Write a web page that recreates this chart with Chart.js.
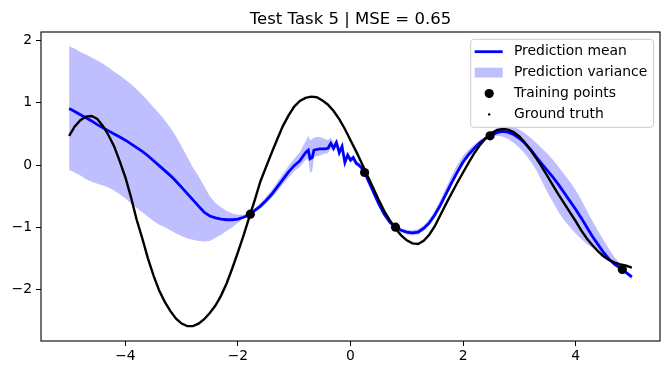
<!DOCTYPE html>
<html><head><meta charset="utf-8">
<script src="https://cdn.jsdelivr.net/npm/chart.js@4"></script>
<style>html,body{margin:0;padding:0;background:#fff;} #wrap{width:670px;height:374px;}</style>
</head><body><div id="wrap"><canvas id="c" width="670" height="374"></canvas></div>
<script>
const titleText = 'Test Task 5 | MSE = 0.65';
const legendLabels = ['Prediction mean', 'Prediction variance', 'Training points', 'Ground truth'];
const xTickValues = [-4, -2, 0, 2, 4];
const yTickValues = [-2, -1, 0, 1, 2];

const xGround = [-5.0,-4.9,-4.8,-4.7,-4.6,-4.5,-4.4,-4.3,-4.2,-4.1,-4.0,-3.9,-3.8,-3.7,-3.6,-3.5,-3.4,-3.3,-3.2,-3.1,-3.0,-2.9,-2.8,-2.7,-2.6,-2.5,-2.4,-2.3,-2.2,-2.1,-2.0,-1.9,-1.8,-1.7,-1.6,-1.5,-1.4,-1.3,-1.2,-1.1,-1.0,-0.9,-0.8,-0.7,-0.6,-0.5,-0.4,-0.3,-0.2,-0.1,0.0,0.1,0.2,0.3,0.4,0.5,0.6,0.7,0.8,0.9,1.0,1.1,1.2,1.3,1.4,1.5,1.6,1.7,1.8,1.9,2.0,2.1,2.2,2.3,2.4,2.5,2.6,2.7,2.8,2.9,3.0,3.1,3.2,3.3,3.4,3.5,3.6,3.7,3.8,3.9,4.0,4.1,4.2,4.3,4.4,4.5,4.6,4.7,4.8,4.9,5.0];
const yGround = [0.47,0.62,0.72,0.78,0.79,0.74,0.63,0.48,0.30,0.06,-0.20,-0.52,-0.88,-1.18,-1.50,-1.78,-2.02,-2.20,-2.35,-2.47,-2.55,-2.59,-2.59,-2.55,-2.48,-2.38,-2.26,-2.10,-1.90,-1.66,-1.40,-1.13,-0.84,-0.56,-0.26,-0.03,0.20,0.42,0.63,0.80,0.94,1.03,1.08,1.10,1.09,1.04,0.97,0.87,0.74,0.58,0.40,0.22,0.03,-0.17,-0.36,-0.56,-0.74,-0.89,-1.02,-1.13,-1.21,-1.26,-1.27,-1.22,-1.12,-0.98,-0.80,-0.62,-0.45,-0.28,-0.12,0.04,0.19,0.32,0.43,0.51,0.56,0.58,0.57,0.53,0.46,0.36,0.24,0.11,-0.03,-0.18,-0.33,-0.48,-0.62,-0.76,-0.90,-1.05,-1.18,-1.29,-1.39,-1.47,-1.53,-1.57,-1.60,-1.62,-1.65];

const xPred = [-5.0,-4.9,-4.8,-4.7,-4.6,-4.5,-4.4,-4.3,-4.2,-4.1,-4.0,-3.9,-3.8,-3.7,-3.6,-3.5,-3.4,-3.3,-3.2,-3.1,-3.0,-2.9,-2.8,-2.7,-2.6,-2.5,-2.4,-2.3,-2.2,-2.1,-2.0,-1.9,-1.8,-1.7,-1.6,-1.5,-1.4,-1.3,-1.2,-1.1,-1.0,-0.9,
  -0.8,-0.75,-0.72,-0.68,-0.65,-0.6,-0.55,-0.5,-0.45,-0.4,-0.35,-0.3,-0.25,-0.2,-0.15,-0.1,-0.05,0.0,0.05,0.1,0.15,0.2,0.25,0.3,
  0.4,0.5,0.6,0.7,0.8,0.9,1.0,1.1,1.2,1.3,1.4,1.5,1.6,1.7,1.8,1.9,2.0,2.1,2.2,2.3,2.4,2.5,2.6,2.7,2.8,2.9,3.0,3.1,3.2,3.3,3.4,3.5,3.6,3.7,3.8,3.9,4.0,4.1,4.2,4.3,4.4,4.5,4.6,4.7,4.8,4.9,5.0];
const yMean = [0.91,0.86,0.81,0.76,0.71,0.65,0.60,0.55,0.50,0.45,0.40,0.34,0.28,0.22,0.15,0.07,-0.01,-0.09,-0.17,-0.26,-0.36,-0.46,-0.56,-0.66,-0.76,-0.82,-0.85,-0.87,-0.88,-0.88,-0.87,-0.84,-0.80,-0.73,-0.66,-0.57,-0.47,-0.35,-0.23,-0.11,-0.01,0.07,
  0.20,0.24,0.10,0.12,0.24,0.25,0.26,0.26,0.26,0.27,0.35,0.27,0.36,0.20,0.30,0.04,0.16,0.08,0.12,0.03,0.00,-0.05,-0.12,-0.22,
  -0.42,-0.62,-0.79,-0.92,-1.00,-1.05,-1.08,-1.09,-1.08,-1.02,-0.93,-0.80,-0.64,-0.46,-0.28,-0.11,0.05,0.17,0.27,0.36,0.43,0.48,0.52,0.54,0.53,0.49,0.43,0.35,0.25,0.13,0.02,-0.09,-0.20,-0.32,-0.45,-0.58,-0.71,-0.85,-1.00,-1.15,-1.28,-1.41,-1.52,-1.60,-1.66,-1.73,-1.80];
const yUpper = [1.91,1.87,1.82,1.78,1.73,1.68,1.63,1.57,1.50,1.44,1.37,1.30,1.22,1.13,1.03,0.93,0.83,0.72,0.60,0.46,0.30,0.13,-0.04,-0.18,-0.34,-0.50,-0.61,-0.68,-0.74,-0.78,-0.80,-0.80,-0.79,-0.70,-0.61,-0.51,-0.40,-0.27,-0.14,-0.01,0.10,0.21,
  0.38,0.47,0.40,0.42,0.44,0.45,0.45,0.44,0.42,0.40,0.44,0.36,0.42,0.27,0.35,0.10,0.21,0.13,0.16,0.07,0.04,-0.02,-0.11,-0.19,
  -0.40,-0.60,-0.77,-0.90,-0.98,-1.02,-1.04,-1.05,-1.03,-0.97,-0.87,-0.73,-0.55,-0.36,-0.17,0.01,0.15,0.25,0.33,0.40,0.46,0.52,0.59,0.62,0.63,0.61,0.57,0.51,0.44,0.36,0.27,0.18,0.08,-0.03,-0.15,-0.27,-0.40,-0.56,-0.73,-0.90,-1.06,-1.21,-1.36,-1.49,-1.60,-1.70,-1.77];
const yLower = [-0.08,-0.12,-0.17,-0.23,-0.27,-0.30,-0.33,-0.36,-0.41,-0.47,-0.54,-0.62,-0.69,-0.76,-0.83,-0.90,-0.96,-1.00,-1.05,-1.10,-1.14,-1.18,-1.20,-1.22,-1.23,-1.22,-1.17,-1.12,-1.06,-1.00,-0.93,-0.86,-0.81,-0.76,-0.70,-0.62,-0.53,-0.42,-0.31,-0.20,-0.10,-0.03,
  0.08,0.10,-0.12,-0.10,0.12,0.14,0.15,0.17,0.18,0.19,0.27,0.20,0.30,0.13,0.24,-0.01,0.11,0.03,0.08,-0.01,-0.04,-0.08,-0.13,-0.25,
  -0.44,-0.64,-0.81,-0.94,-1.02,-1.08,-1.12,-1.13,-1.12,-1.06,-0.97,-0.84,-0.68,-0.50,-0.32,-0.15,0.00,0.12,0.23,0.33,0.40,0.45,0.47,0.46,0.42,0.36,0.28,0.18,0.06,-0.08,-0.26,-0.44,-0.60,-0.76,-0.89,-1.00,-1.10,-1.19,-1.27,-1.33,-1.39,-1.45,-1.50,-1.56,-1.64,-1.76,-1.84];

const xTrain = [-1.78, 0.25, 0.80, 2.48, 4.83];
const yTrain = [-0.79, -0.12, -1.00, 0.47, -1.68];

const pts = (xs, ys) => xs.map((x, i) => ({x: x, y: ys[i]}));
const FONT = '"DejaVu Sans", sans-serif';
const BLUE = '#0000ff';
const BAND = 'rgba(0,0,255,0.25)';
const minus = v => String(v).replace('-', '\u2212');

const framePlugin = {
  id: 'frame',
  afterDatasetsDraw(chart) {
    const {ctx, chartArea: a} = chart;
    ctx.save();
    ctx.strokeStyle = '#000';
    ctx.lineWidth = 1.1;
    ctx.strokeRect(a.left, a.top, a.right - a.left, a.bottom - a.top);
    ctx.restore();
  }
};

const titlePlugin = {
  id: 'mplTitle',
  afterDraw(chart) {
    const {ctx, chartArea: a} = chart;
    ctx.save();
    ctx.font = '16.5px ' + FONT;
    ctx.fillStyle = '#000';
    ctx.textAlign = 'center';
    ctx.textBaseline = 'alphabetic';
    ctx.fillText(titleText, (a.left + a.right) / 2, a.top - 8);
    ctx.restore();
  }
};

const legendPlugin = {
  id: 'mplLegend',
  afterDraw(chart) {
    const {ctx, chartArea: a} = chart;
    ctx.save();
    ctx.font = '13.9px ' + FONT;
    let maxW = 0;
    legendLabels.forEach(t => { maxW = Math.max(maxW, ctx.measureText(t).width); });
    const right = a.right - 6.5, top = a.top + 7.3;
    const w = 4 + 28 + 11 + maxW + 6.6, h = 88;
    const left = right - w;
    const r = 3;
    ctx.beginPath();
    ctx.moveTo(left + r, top);
    ctx.lineTo(right - r, top); ctx.quadraticCurveTo(right, top, right, top + r);
    ctx.lineTo(right, top + h - r); ctx.quadraticCurveTo(right, top + h, right - r, top + h);
    ctx.lineTo(left + r, top + h); ctx.quadraticCurveTo(left, top + h, left, top + h - r);
    ctx.lineTo(left, top + r); ctx.quadraticCurveTo(left, top, left + r, top);
    ctx.closePath();
    ctx.fillStyle = 'rgba(255,255,255,0.8)';
    ctx.fill();
    ctx.strokeStyle = '#cccccc';
    ctx.lineWidth = 1;
    ctx.stroke();
    const hx = left + 4, tx = left + 43.3;
    const rowY = i => top + 12.4 + i * 20.9;
    ctx.strokeStyle = BLUE; ctx.lineWidth = 2.8;
    ctx.beginPath(); ctx.moveTo(hx, rowY(0)); ctx.lineTo(hx + 28, rowY(0)); ctx.stroke();
    ctx.fillStyle = BAND; ctx.fillRect(hx, rowY(1) - 4.9, 28, 9.8);
    ctx.fillStyle = '#000';
    ctx.beginPath(); ctx.arc(hx + 14.5, rowY(2), 4.6, 0, Math.PI * 2); ctx.fill();
    ctx.beginPath(); ctx.arc(hx + 14.5, rowY(3), 1.2, 0, Math.PI * 2); ctx.fill();
    ctx.textBaseline = 'middle';
    ctx.textAlign = 'left';
    legendLabels.forEach((t, i) => ctx.fillText(t, tx, rowY(i)));
    ctx.restore();
  }
};

new Chart(document.getElementById('c'), {
  type: 'line',
  data: {
    datasets: [
      { label: legendLabels[2], data: pts(xTrain, yTrain), showLine: false, pointRadius: 4.6, pointBackgroundColor: '#000', pointBorderColor: '#000', pointBorderWidth: 0, order: 0 },
      { label: legendLabels[3], data: pts(xGround, yGround), borderColor: '#000', borderWidth: 2.4, pointRadius: 0, tension: 0, order: 1 },
      { label: legendLabels[0], data: pts(xPred, yMean), borderColor: BLUE, borderWidth: 2.8, pointRadius: 0, tension: 0, order: 2 },
      { label: 'lower', data: pts(xPred, yLower), borderColor: 'transparent', borderWidth: 0, pointRadius: 0, fill: false, tension: 0, order: 4 },
      { label: legendLabels[1], data: pts(xPred, yUpper), borderColor: 'transparent', borderWidth: 0, pointRadius: 0, fill: '-1', backgroundColor: BAND, tension: 0, order: 3 }
    ]
  },
  options: {
    responsive: false,
    animation: false,
    devicePixelRatio: 1,
    layout: { padding: { left: 0, right: 10, top: 32, bottom: 0 } },
    plugins: {
      legend: { display: false },
      tooltip: { enabled: false },
      title: { display: false }
    },
    scales: {
      x: {
        type: 'linear', min: -5.5, max: 5.5,
        afterBuildTicks: ax => { ax.ticks = xTickValues.map(v => ({ value: v })); },
        afterFit: ax => { ax.height = 33; },
        grid: { display: true, drawOnChartArea: false, drawTicks: true, tickLength: 5, color: '#000', lineWidth: 1 },
        border: { display: false },
        ticks: { color: '#000', font: { family: FONT, size: 13.9 }, padding: 2, autoSkip: false, maxRotation: 0, callback: v => minus(v) }
      },
      y: {
        type: 'linear', min: -2.83, max: 2.14,
        afterBuildTicks: ax => { ax.ticks = yTickValues.map(v => ({ value: v })); },
        afterFit: ax => { ax.width = 41; },
        grid: { display: true, drawOnChartArea: false, drawTicks: true, tickLength: 5, color: '#000', lineWidth: 1 },
        border: { display: false },
        ticks: { color: '#000', font: { family: FONT, size: 13.9 }, padding: 4, autoSkip: false, callback: v => minus(v) }
      }
    }
  },
  plugins: [framePlugin, titlePlugin, legendPlugin]
});
</script>
</body></html>
